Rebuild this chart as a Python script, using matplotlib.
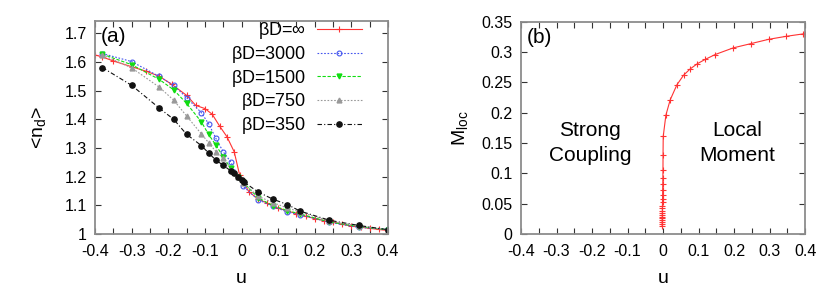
import matplotlib
matplotlib.use("Agg")
import matplotlib.pyplot as plt
from matplotlib.ticker import MultipleLocator, FuncFormatter

plt.rcParams['font.family'] = ['Liberation Sans', 'DejaVu Sans']
plt.rcParams['mathtext.fontset'] = 'custom'
plt.rcParams['mathtext.rm'] = 'Liberation Sans'
plt.rcParams['mathtext.it'] = 'Liberation Sans'

# ---- panel (a) data ----
u_inf = [-0.4, -0.38, -0.35, -0.3, -0.26, -0.225, -0.19, -0.15, -0.125, -0.1, -0.08, -0.06,
         -0.04, -0.02, -0.005, 0.02, 0.045, 0.07, 0.1, 0.125, 0.15, 0.175, 0.2, 0.225,
         0.25, 0.275, 0.3, 0.325, 0.35, 0.375, 0.4]
n_inf = [1.625, 1.618, 1.604, 1.584, 1.568, 1.551, 1.522, 1.484, 1.449, 1.438, 1.418, 1.377,
         1.34, 1.287, 1.205, 1.148, 1.122, 1.108, 1.09, 1.081, 1.071, 1.062, 1.054, 1.047,
         1.041, 1.034, 1.028, 1.024, 1.02, 1.016, 1.012]

u_3000 = [-0.38, -0.3, -0.225, -0.185, -0.15, -0.11, -0.09, -0.07, -0.05, -0.03, 0.005,
          0.045, 0.085, 0.125, 0.16, 0.24, 0.32, 0.4]
n_3000 = [1.630, 1.602, 1.55, 1.519, 1.476, 1.424, 1.385, 1.334, 1.287, 1.253, 1.166,
          1.12, 1.097, 1.077, 1.067, 1.041, 1.023, 1.017]

u_1500 = [-0.38, -0.3, -0.225, -0.185, -0.15, -0.11, -0.09, -0.07, -0.05, -0.03, -0.01,
          0.005, 0.045, 0.085, 0.125, 0.16, 0.24, 0.32, 0.4]
n_1500 = [1.628, 1.591, 1.540, 1.503, 1.456, 1.392, 1.348, 1.310, 1.27, 1.23, 1.198,
          1.18, 1.127, 1.099, 1.082, 1.07, 1.042, 1.026, 1.015]

u_750 = [-0.38, -0.3, -0.225, -0.185, -0.15, -0.11, -0.09, -0.07, -0.05, -0.03, -0.01,
         0.005, 0.045, 0.085, 0.125, 0.16, 0.24, 0.32, 0.4]
n_750 = [1.625, 1.58, 1.513, 1.467, 1.412, 1.35, 1.319, 1.288, 1.266, 1.225, 1.20,
         1.178, 1.132, 1.11, 1.091, 1.077, 1.045, 1.028, 1.014]

u_350 = [-0.38, -0.3, -0.225, -0.185, -0.15, -0.11, -0.09, -0.07, -0.05, -0.03, -0.02,
         -0.01, 0.0, 0.007, 0.045, 0.085, 0.125, 0.16, 0.24, 0.32, 0.4]
n_350 = [1.581, 1.519, 1.440, 1.400, 1.348, 1.309, 1.283, 1.258, 1.240, 1.221, 1.213,
         1.199, 1.190, 1.181, 1.147, 1.122, 1.103, 1.080, 1.048, 1.030, 1.015]

# ---- panel (b) data ----
u_m = [-0.0025, -0.0025, -0.0024, -0.0023, -0.0022, -0.0021, -0.002, -0.0019, -0.0018,
       -0.0017, -0.0016, -0.0015, -0.0014, -0.0012, -0.001, -0.0008, -0.0005, -0.0002,
       0.0, 0.0005, 0.008, 0.02, 0.039, 0.058, 0.076, 0.097, 0.119, 0.147, 0.198, 0.248,
       0.297, 0.347, 0.395, 0.4]
m_loc = [0.014, 0.017, 0.020, 0.023, 0.026, 0.028, 0.031, 0.035, 0.038, 0.043, 0.047,
         0.052, 0.058, 0.065, 0.073, 0.082, 0.092, 0.106, 0.131, 0.161, 0.196, 0.221,
         0.246, 0.262, 0.272, 0.281, 0.288, 0.296, 0.307, 0.314, 0.321, 0.326, 0.33, 0.3305]

labels = [r'$\beta$D=$\infty$', r'$\beta$D=3000', r'$\beta$D=1500', r'$\beta$D=750', r'$\beta$D=350']
region_labels = ['Strong\nCoupling', 'Local\nMoment']

fig = plt.figure(figsize=(8.3, 2.9), dpi=100)
axa = fig.add_axes([0.1145, 0.193, 0.353, 0.736])
axb = fig.add_axes([0.6277, 0.193, 0.3423, 0.732])


def fmt(v, pos):
    s = ('%.2f' % v).rstrip('0').rstrip('.')
    if s in ('-0', '0'):
        return '0'
    return s


spine_col = '#8c8c8c'
for ax in (axa, axb):
    for s in ax.spines.values():
        s.set_color(spine_col)
        s.set_linewidth(1.3)
    ax.tick_params(which='both', direction='in', top=True, right=True,
                   length=4, width=0.8, color='#333333', labelsize=11.5)
    ax.tick_params(axis='x', pad=7)
    ax.tick_params(axis='y', pad=6)
    ax.set_xlim(-0.4, 0.4)
    ax.xaxis.set_major_locator(MultipleLocator(0.1))
    ax.xaxis.set_minor_locator(MultipleLocator(0.05))
    ax.xaxis.set_major_formatter(FuncFormatter(fmt))
    ax.yaxis.set_major_formatter(FuncFormatter(fmt))
    ax.set_xlabel('u', fontsize=14, labelpad=8)

# panel a
lw = 0.8
h1, = axa.plot(u_inf, n_inf, color='#ff3333', lw=lw, ls='-', marker='+', ms=4, mew=0.8)
h2, = axa.plot(u_3000, n_3000, color='#4455ee', lw=lw, ls=(0, (1.5, 1.5)), marker='o', ms=3.5,
               mfc='none', mew=0.8)
h3, = axa.plot(u_1500, n_1500, color='#11dd11', lw=lw, ls=(0, (3, 1.5)), marker='v', ms=3.5)
h4, = axa.plot(u_750, n_750, color='#999999', lw=lw, ls=(0, (1.5, 1.5)), marker='^', ms=3.5)
h5, = axa.plot(u_350, n_350, color='#111111', lw=lw, ls=(0, (4, 2, 1, 2)), marker='o', ms=3.8)
axa.set_ylim(1.0, 1.745)
axa.yaxis.set_major_locator(MultipleLocator(0.1))
axa.set_ylabel('<n$_\\mathregular{d}$>', fontsize=14, labelpad=12)
axa.text(0.02, 0.97, '(a)', transform=axa.transAxes, fontsize=15, va='top', ha='left')
axa.legend([h1, h2, h3, h4, h5], labels, loc='upper right', frameon=False,
           markerfirst=False, handlelength=2.5, fontsize=13, labelspacing=0.15,
           borderaxespad=0.0, handletextpad=0.6, bbox_to_anchor=(0.935, 1.035))

# panel b
axb.plot(u_m, m_loc, color='#ff3333', lw=lw, marker='+', ms=4, mew=0.8)
axb.set_ylim(0, 0.35)
axb.yaxis.set_major_locator(MultipleLocator(0.05))
axb.set_ylabel('M$_\\mathregular{loc}$', fontsize=14, labelpad=8)
axb.text(0.02, 0.97, '(b)', transform=axb.transAxes, fontsize=15, va='top', ha='left')
axb.text(-0.205, 0.15, region_labels[0], fontsize=15, ha='center', va='center', linespacing=1.45)
axb.text(0.21, 0.15, region_labels[1], fontsize=15, ha='center', va='center', linespacing=1.45)

fig.savefig('out.png', dpi=100)
